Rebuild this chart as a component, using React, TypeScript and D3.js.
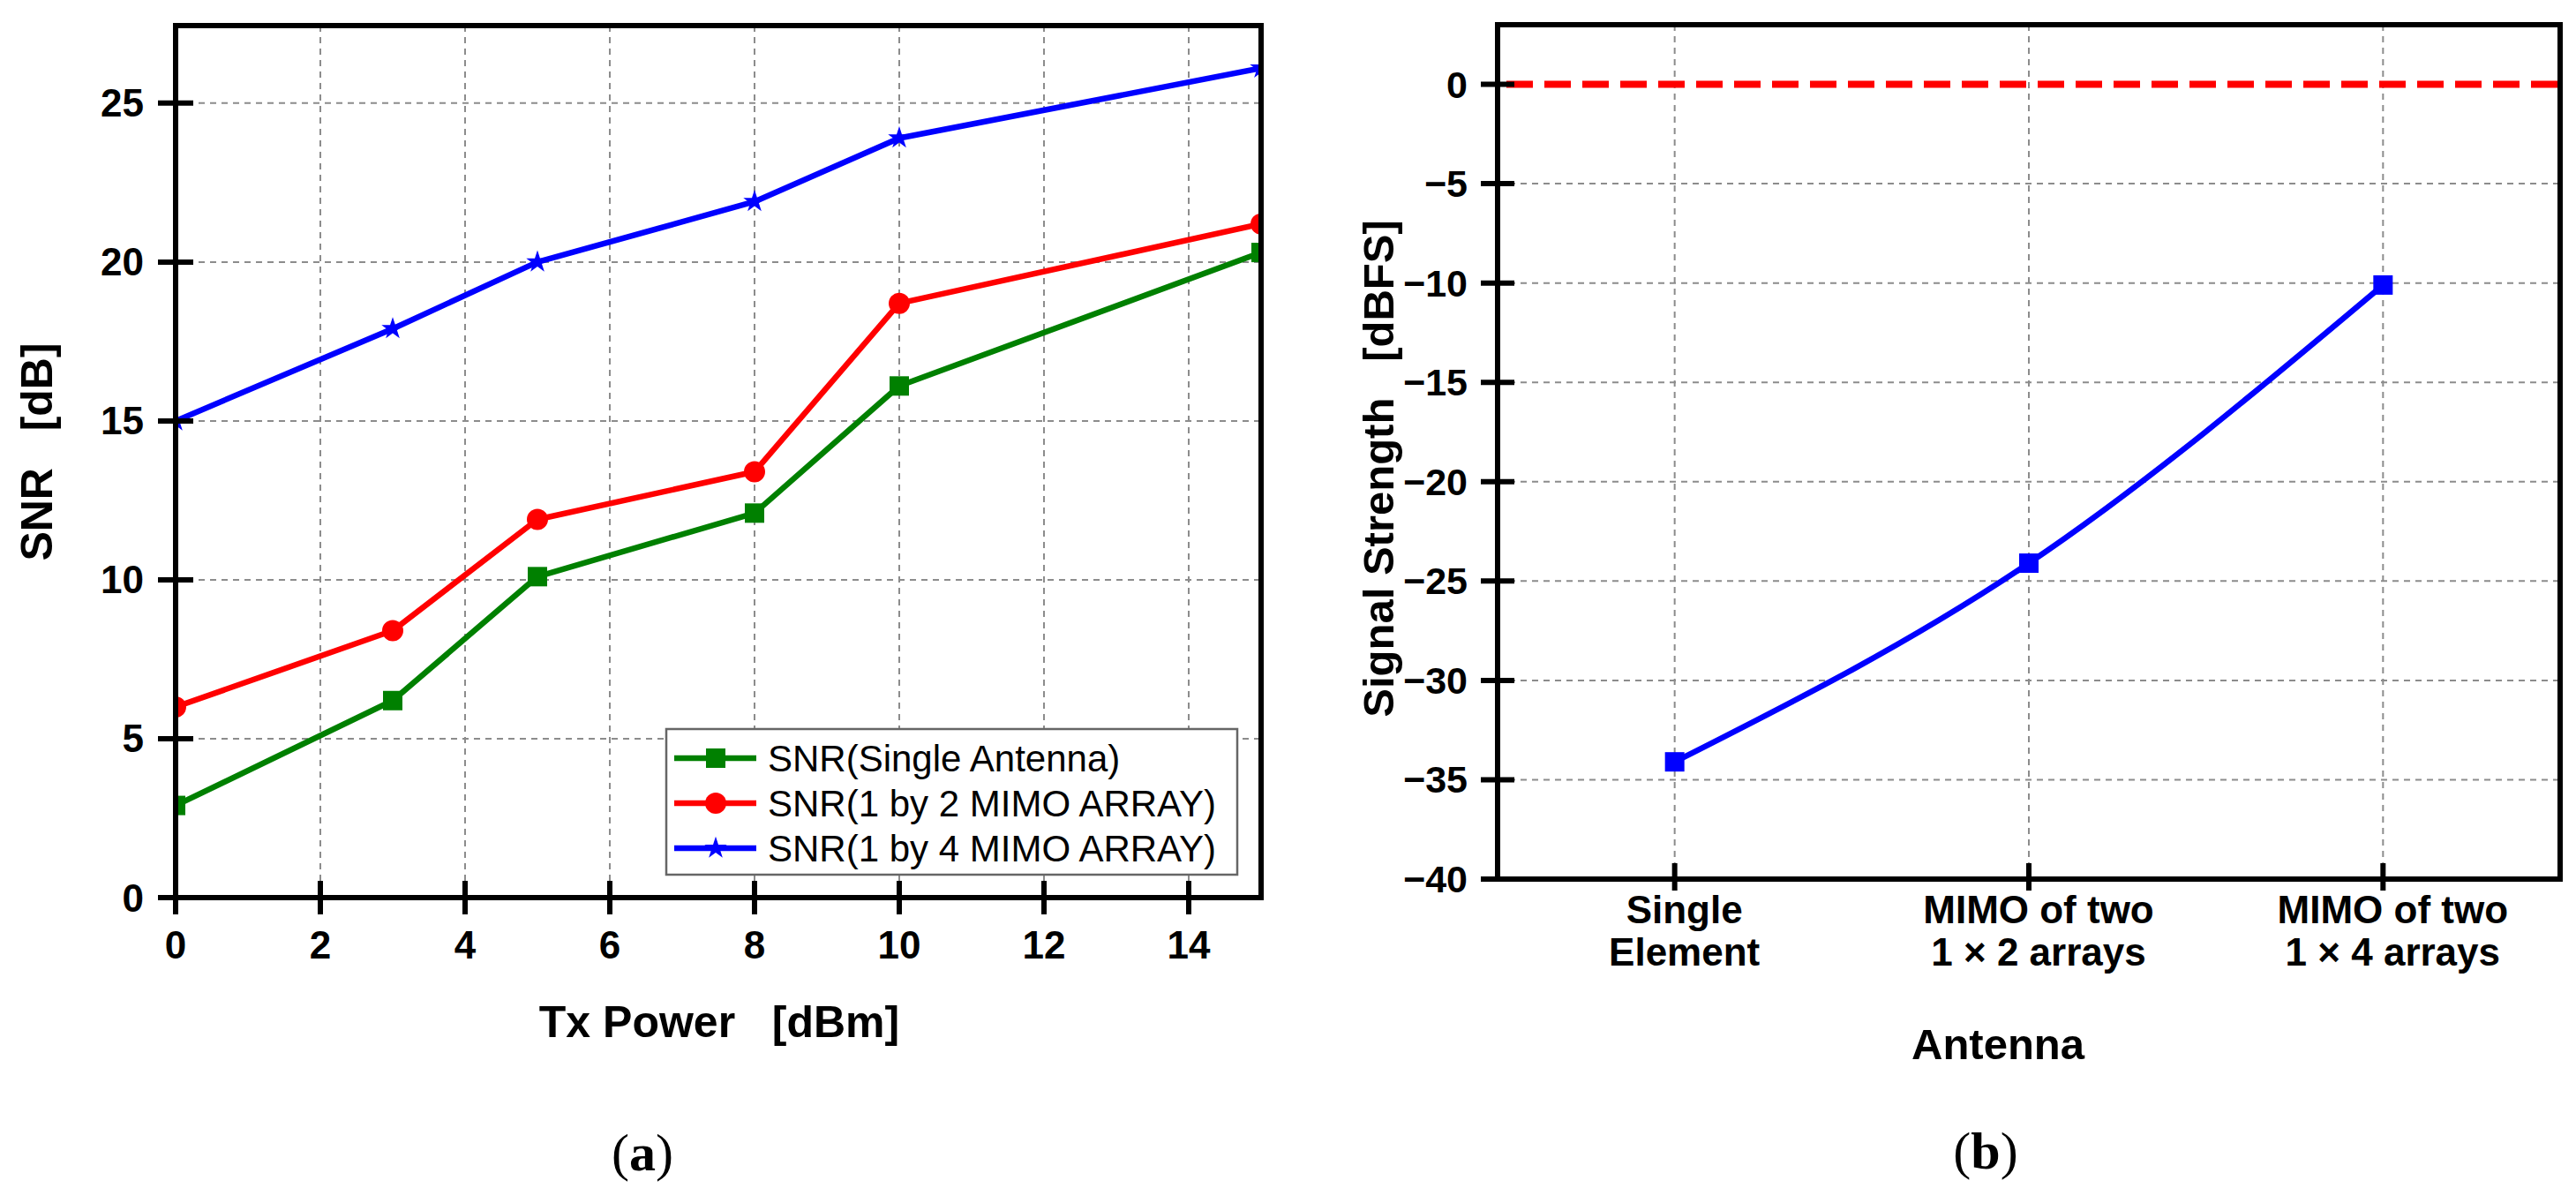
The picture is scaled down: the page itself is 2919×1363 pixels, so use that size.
import React from "react";
import * as d3 from "d3";

// ---------- data: panel (a) ----------
const txPower = [0, 3, 5, 8, 10, 15];
const snrSingle = [2.9, 6.2, 10.1, 12.1, 16.1, 20.3];
const snr1by2 = [6.0, 8.4, 11.9, 13.4, 18.7, 21.2];
const snr1by4 = [15.0, 17.9, 20.0, 21.9, 23.9, 26.1];
const xTicksA = [0, 2, 4, 6, 8, 10, 12, 14];
const yTicksA = [0, 5, 10, 15, 20, 25];
const seriesNames = [
  "SNR(Single Antenna)",
  "SNR(1 by 2 MIMO ARRAY)",
  "SNR(1 by 4 MIMO ARRAY)",
];

// ---------- data: panel (b) ----------
const antennaCats = [
  ["Single", "Element"],
  ["MIMO of two", "1 × 2 arrays"],
  ["MIMO of two", "1 × 4 arrays"],
];
const antennaPos = [1, 2, 3];
const signalStrength = [-34.1, -24.1, -10.1];
const referenceLevel = 0;
const yTicksB = [0, -5, -10, -15, -20, -25, -30, -35, -40];

const FONT = "'Liberation Sans', Arial, Helvetica, sans-serif";
const GRID = "#8c8c8c";
const GREEN = "#008000";
const RED = "#ff0000";
const BLUE = "#0000ff";

function Marker({ kind, x, y, color }: { kind: string; x: number; y: number; color: string }) {
  let sym: any = d3.symbolSquare;
  let size = 22 * 22;
  if (kind === "circle") {
    sym = d3.symbolCircle;
    size = Math.PI * 12 * 12;
  } else if (kind === "star") {
    sym = d3.symbolStar;
    size = 200;
  }
  const p = d3.symbol(sym, size)() as string;
  return <path d={p} transform={`translate(${x},${y})`} fill={color} />;
}

function PanelA() {
  const L = 199, R = 1429, T = 29, B = 1017;
  const x = d3.scaleLinear().domain([0, 15]).range([L, R]);
  const y = d3.scaleLinear().domain([0, 27.44]).range([B, T]);
  const series = [
    { name: seriesNames[0], vals: snrSingle, color: GREEN, marker: "square" },
    { name: seriesNames[1], vals: snr1by2, color: RED, marker: "circle" },
    { name: seriesNames[2], vals: snr1by4, color: BLUE, marker: "star" },
  ];
  const line = d3
    .line<number>()
    .x((_, i) => x(txPower[i]))
    .y((v) => y(v));
  const legX = 755, legY = 826, legW = 647, legH = 165;
  const rowY = [859, 910, 961];
  return (
    <g>
      <defs>
        <clipPath id="clipA">
          <rect x={L} y={T} width={R - L} height={B - T} />
        </clipPath>
      </defs>
      {/* grid */}
      {xTicksA.filter((t) => t > 0).map((t) => (
        <line key={"gx" + t} x1={x(t)} x2={x(t)} y1={T} y2={B} stroke={GRID} strokeWidth={2} strokeDasharray="7,6" />
      ))}
      {yTicksA.filter((t) => t > 0).map((t) => (
        <line key={"gy" + t} x1={L} x2={R} y1={y(t)} y2={y(t)} stroke={GRID} strokeWidth={2} strokeDasharray="7,6" />
      ))}
      {/* series */}
      <g clipPath="url(#clipA)">
        {series.map((s) => (
          <path key={s.name} d={line(s.vals) as string} fill="none" stroke={s.color} strokeWidth={6.5} strokeLinejoin="round" />
        ))}
        {series.map((s) =>
          s.vals.map((v, i) => (
            <Marker key={s.name + i} kind={s.marker} x={x(txPower[i])} y={y(v)} color={s.color} />
          ))
        )}
      </g>
      {/* frame */}
      <rect x={L} y={T} width={R - L} height={B - T} fill="none" stroke="#000" strokeWidth={6} />
      {/* ticks */}
      {xTicksA.map((t) => (
        <line key={"tx" + t} x1={x(t)} x2={x(t)} y1={B - 19} y2={B + 19} stroke="#000" strokeWidth={6} />
      ))}
      {yTicksA.map((t) => (
        <line key={"ty" + t} x1={L - 20} x2={L + 20} y1={y(t)} y2={y(t)} stroke="#000" strokeWidth={6} />
      ))}
      {xTicksA.map((t) => (
        <text key={"lx" + t} x={x(t)} y={1070} textAnchor="middle" dominantBaseline="central" fontFamily={FONT} fontWeight="bold" fontSize={44}>
          {t}
        </text>
      ))}
      {yTicksA.map((t) => (
        <text key={"ly" + t} x={163} y={y(t)} textAnchor="end" dominantBaseline="central" fontFamily={FONT} fontWeight="bold" fontSize={44}>
          {t}
        </text>
      ))}
      {/* titles */}
      <text x={815} y={1158} textAnchor="middle" dominantBaseline="central" fontFamily={FONT} fontWeight="bold" fontSize={50} style={{ whiteSpace: "pre" }}>
        {"Tx Power   [dBm]"}
      </text>
      <text transform="translate(42,512) rotate(-90)" textAnchor="middle" dominantBaseline="central" fontFamily={FONT} fontWeight="bold" fontSize={50} style={{ whiteSpace: "pre" }}>
        {"SNR   [dB]"}
      </text>
      {/* legend */}
      <rect x={legX} y={legY} width={legW} height={legH} fill="#fff" stroke="#666" strokeWidth={2.5} />
      {series.map((s, i) => (
        <g key={"leg" + i}>
          <line x1={764} x2={857} y1={rowY[i]} y2={rowY[i]} stroke={s.color} strokeWidth={6.5} />
          <Marker kind={s.marker} x={811} y={rowY[i]} color={s.color} />
          <text x={870} y={rowY[i]} dominantBaseline="central" fontFamily={FONT} fontSize={42}>
            {s.name}
          </text>
        </g>
      ))}
      <text x={728} y={1306} textAnchor="middle" dominantBaseline="central" fontFamily="'Liberation Serif', 'DejaVu Serif', serif" fontSize={60}>
        (<tspan fontWeight="bold">a</tspan>)
      </text>
    </g>
  );
}

function PanelB() {
  const L = 1697, R = 2901, T = 28, B = 996;
  const x = d3.scaleLinear().domain([0.5, 3.5]).range([L, R]);
  const y = d3.scaleLinear().domain([-40, 3]).range([B, T]);
  const line = d3
    .line<number>()
    .x((_, i) => x(antennaPos[i]))
    .y((v) => y(v))
    .curve(d3.curveNatural);
  const minus = (t: number) => (t < 0 ? "\u2212" + Math.abs(t) : String(t));
  return (
    <g>
      <defs>
        <clipPath id="clipB">
          <rect x={L} y={T} width={R - L} height={B - T} />
        </clipPath>
      </defs>
      {antennaPos.map((p) => (
        <line key={"gx" + p} x1={x(p)} x2={x(p)} y1={T} y2={B} stroke={GRID} strokeWidth={2} strokeDasharray="7,6" />
      ))}
      {yTicksB.filter((t) => t > -40 && t < 0).map((t) => (
        <line key={"gy" + t} x1={L} x2={R} y1={y(t)} y2={y(t)} stroke={GRID} strokeWidth={2} strokeDasharray="7,6" />
      ))}
      <line x1={L + 10} x2={R + 6} y1={y(referenceLevel)} y2={y(referenceLevel)} stroke={RED} strokeWidth={8} strokeDasharray="30,13" />
      <g clipPath="url(#clipB)">
        <path d={line(signalStrength) as string} fill="none" stroke={BLUE} strokeWidth={6.5} />
        {signalStrength.map((v, i) => (
          <Marker key={"m" + i} kind="square" x={x(antennaPos[i])} y={y(v)} color={BLUE} />
        ))}
      </g>
      <rect x={L} y={T} width={R - L} height={B - T} fill="none" stroke="#000" strokeWidth={6} />
      {antennaPos.map((p) => (
        <line key={"tx" + p} x1={x(p)} x2={x(p)} y1={B - 18} y2={B + 13} stroke="#000" strokeWidth={6} />
      ))}
      {yTicksB.map((t) => (
        <line key={"ty" + t} x1={L - 19} x2={L + 19} y1={y(t)} y2={y(t)} stroke="#000" strokeWidth={6} />
      ))}
      {yTicksB.map((t) => (
        <text key={"ly" + t} x={1663} y={y(t)} textAnchor="end" dominantBaseline="central" fontFamily={FONT} fontWeight="bold" fontSize={43}>
          {minus(t)}
        </text>
      ))}
      {antennaCats.map((lines, i) => (
        <g key={"cat" + i}>
          {lines.map((ln, j) => (
            <text key={j} x={x(antennaPos[i]) + 11} y={1030 + j * 48} textAnchor="middle" dominantBaseline="central" fontFamily={FONT} fontWeight="bold" fontSize={44}>
              {ln}
            </text>
          ))}
        </g>
      ))}
      <text x={2264} y={1183} textAnchor="middle" dominantBaseline="central" fontFamily={FONT} fontWeight="bold" fontSize={49}>
        Antenna
      </text>
      <text transform="translate(1562,531) rotate(-90)" textAnchor="middle" dominantBaseline="central" fontFamily={FONT} fontWeight="bold" fontSize={49} style={{ whiteSpace: "pre" }}>
        {"Signal Strength   [dBFS]"}
      </text>
      <text x={2250} y={1304} textAnchor="middle" dominantBaseline="central" fontFamily="'Liberation Serif', 'DejaVu Serif', serif" fontSize={60}>
        (<tspan fontWeight="bold">b</tspan>)
      </text>
    </g>
  );
}

export default function App() {
  return (
    <svg
      width={2919}
      height={1363}
      viewBox="0 0 2919 1363"
      style={{ position: "absolute", left: 0, top: 0, display: "block", background: "#fff" }}
    >
      <rect x={0} y={0} width={2919} height={1363} fill="#fff" />
      <PanelA />
      <PanelB />
    </svg>
  );
}
